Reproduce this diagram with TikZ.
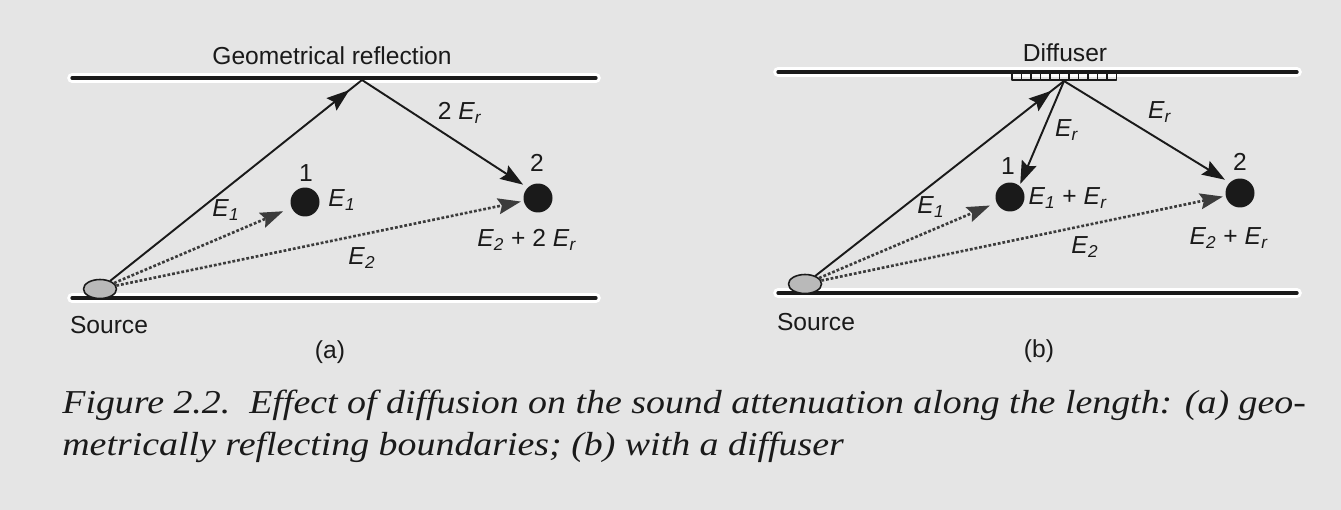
\documentclass[tikz,border=0pt]{standalone}
\usepackage{fontspec}
\setmainfont{Liberation Sans}
\newfontfamily\capfont{Liberation Serif}
\usetikzlibrary{arrows.meta,shapes.geometric,decorations.markings}
\definecolor{paper}{RGB}{229,229,229}
\definecolor{ink}{RGB}{26,26,26}
\newcommand{\Ev}[1]{\textit{E}\textsubscript{\textit{#1}}}
\begin{document}
\begin{tikzpicture}[x=0.02cm,y=-0.02cm,font=\fontsize{14}{16}\selectfont, line join=round, line cap=round, >={Stealth[length=13pt,width=9pt,inset=2pt]},
	wall/.style={line width=1.9pt,draw=ink,preaction={draw=white,line width=5.5pt}},
	ray/.style={line width=1.1pt,draw=ink},
	direct/.style={line width=1.5pt,draw=ink!85,dash pattern=on 1.6pt off 1.1pt,line cap=butt},
	receiver/.style={circle,fill=ink,minimum size=0.58cm,inner sep=0pt},
	source/.style={ellipse,draw=ink,line width=0.9pt,fill=gray!55,minimum width=0.66cm,minimum height=0.38cm,inner sep=0pt},
	midarrow/.style={postaction={decorate},decoration={markings,mark=at position #1 with {\arrow{>}}}},
	lbl/.style={text=ink,inner sep=0pt},
	captext/.style={text=ink,inner sep=0pt,anchor=base west,font=\capfont\itshape\fontsize{19}{22}\selectfont}]
	\fill[paper] (0,0) rectangle (1341,510);
	\useasboundingbox (0,0) rectangle (1341,510);
	% (a) geometrical reflection
	\draw[wall] (72,78) -- (596,78) (72,298) -- (596,298);
	\node[lbl] (titleA) at (332,56) {Geometrical reflection};
	\node[source] (srcA) at (100,289) {};
	\coordinate (apexA) at (362,80);
	\node[receiver] (recA1) at (305,202) {};
	\node[receiver] (recA2) at (538,198) {};
	\node[lbl] (numA1) at (306,173) {1};
	\node[lbl] (numA2) at (537,163) {2};
	\node[lbl] (engA1) at (342,200) {\Ev{1}};
	\node[lbl] (engA2) at (527,240) {\Ev{2} + 2 \Ev{r}};
	\node[lbl] (refA) at (460,113) {2 \Ev{r}};
	\node[lbl] (dirA1) at (226,210) {\Ev{1}};
	\node[lbl] (dirA2) at (362,258) {\Ev{2}};
	\node[lbl] (srcnameA) at (109,325) {Source};
	\node[lbl] (subA) at (330,352) {(a)};
	\draw[ray,midarrow=0.95] (srcA) -- (apexA);
	\draw[ray,->,shorten >=3pt] (apexA) -- (recA2.135);
	\draw[direct,->,shorten >=5pt] (srcA) -- (recA1);
	\draw[direct,->,shorten >=1.5pt] (srcA) -- (recA2);
	% (b) with a diffuser
	\draw[wall] (778,72) -- (1297,72) (778,293) -- (1297,293);
	\foreach \i in {0,...,10}
		\draw[ink,line width=0.6pt] (1012+\i*9.5,73) rectangle ++(9.5,7);
	\node[lbl] (titleB) at (1065,53) {Diffuser};
	\node[source] (srcB) at (805,284) {};
	\coordinate (apexB) at (1064,81);
	\node[receiver] (recB1) at (1010,197) {};
	\node[receiver] (recB2) at (1240,193) {};
	\node[lbl] (numB1) at (1008,166) {1};
	\node[lbl] (numB2) at (1240,162) {2};
	\node[lbl] (engB1) at (1068,198) {\Ev{1} + \Ev{r}};
	\node[lbl] (engB2) at (1229,238) {\Ev{2} + \Ev{r}};
	\node[lbl] (refB1) at (1067,130) {\Ev{r}};
	\node[lbl] (refB2) at (1160,112) {\Ev{r}};
	\node[lbl] (dirB1) at (931,207) {\Ev{1}};
	\node[lbl] (dirB2) at (1085,247) {\Ev{2}};
	\node[lbl] (srcnameB) at (816,322) {Source};
	\node[lbl] (subB) at (1039,351) {(b)};
	\draw[ray,midarrow=0.95] (srcB) -- (apexB);
	\draw[ray,->,shorten >=1pt] (apexB) -- (recB1.50);
	\draw[ray,->,shorten >=3pt] (apexB) -- (recB2.135);
	\draw[direct,->,shorten >=4pt] (srcB) -- (recB1);
	\draw[direct,->,shorten >=1.5pt] (srcB) -- (recB2);
	% caption
	\node[captext] (capline1) at (62,413) {\scalebox{1.135}[1]{Figure 2.2.\ \ Effect of diffusion on the sound attenuation along the length: (a) geo-}};
	\node[captext] (capline2) at (62,455) {\scalebox{1.135}[1]{metrically reflecting boundaries; (b) with a diffuser}};
\end{tikzpicture}
\end{document}
